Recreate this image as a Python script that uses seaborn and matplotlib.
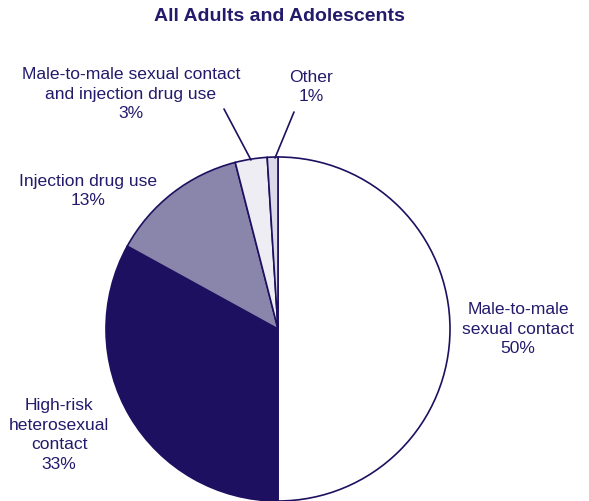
import matplotlib
matplotlib.use("Agg")
import matplotlib.pyplot as plt
import seaborn as sns

sns.set_theme(style="white")
plt.rcParams['font.family'] = ['Liberation Sans', 'DejaVu Sans']

categories = ["Male-to-male\nsexual contact", "High-risk\nheterosexual\ncontact",
              "Injection drug use", "Male-to-male sexual contact\nand injection drug use", "Other"]
values = [50, 33, 13, 3, 1]
colors = ["#FFFFFF", "#1E1060", "#8A85AB", "#EEEDF3", "#DCDAE9"]
edge = "#1E1060"
text_color = "#231A6B"

W, H = 589, 501
fig = plt.figure(figsize=(W / 100, H / 100), dpi=100)
ax = fig.add_axes([0, 0, 1, 1])

cx, cy, r = 278, H - 329, 172
wedges, _ = ax.pie(values, colors=colors, startangle=90, counterclock=False,
                   center=(cx, cy), radius=r,
                   wedgeprops=dict(edgecolor=edge, linewidth=1.2))
ax.set_xlim(0, W)
ax.set_ylim(0, H)
ax.set_aspect("equal")
ax.axis("off")

fs = 12.6
ax.text(279, H - 16, "All Adults and Adolescents", ha="center", va="center",
        fontsize=14, fontweight="bold", color=text_color)

labels_pos = [(518, H - 329), (59, H - 435), (88, H - 191), (131, H - 94), (311, H - 87)]
for cat, v, (x, y) in zip(categories, values, labels_pos):
    ax.text(x, y, f"{cat}\n{v}%", ha="center", va="center", fontsize=fs,
            color=text_color, linespacing=1.38)

# leader lines
ax.plot([224, 251], [H - 109, H - 160], color=edge, lw=1.2)
ax.plot([294, 275], [H - 112, H - 158], color=edge, lw=1.2)

fig.savefig("out.png", dpi=100)
